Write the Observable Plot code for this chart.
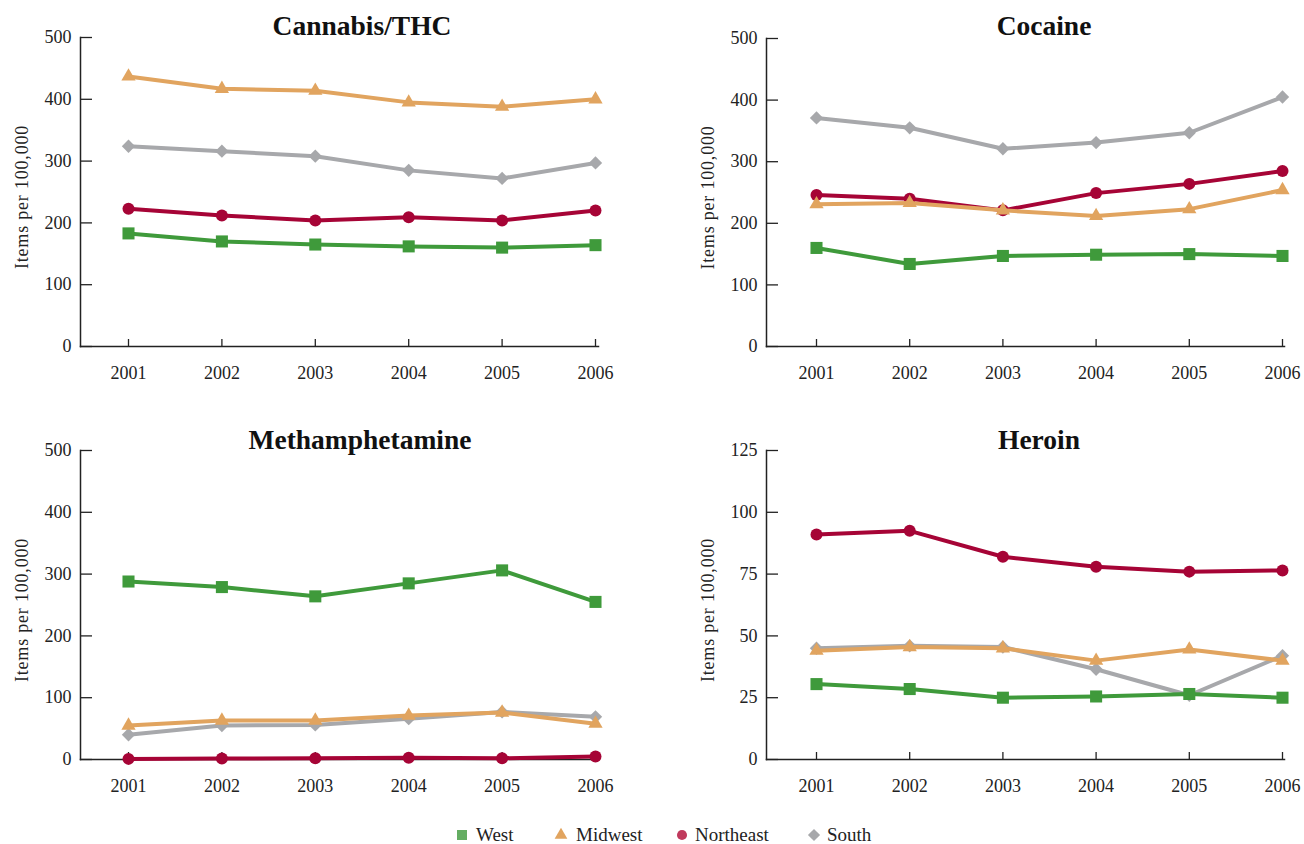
<!DOCTYPE html>
<html>
<head>
<meta charset="utf-8">
<script src="https://cdn.jsdelivr.net/npm/d3@7"></script>
<script src="https://cdn.jsdelivr.net/npm/@observablehq/plot@0.6"></script>
<style>
  body { margin: 0; background: #fff; }
  #page { position: relative; width: 1304px; height: 844px; font-family: "Liberation Serif", "DejaVu Serif", serif; color: #222; }
  .panel { position: absolute; }
  .title { position: absolute; width: 400px; text-align: center; font-weight: bold; font-size: 27.5px; line-height: 30px; color: #111; }
  .legend-symbol { position: absolute; top: 827px; }
  .legend-text { position: absolute; top: 824px; font-size: 19px; line-height: 22px; color: #222; }
</style>
</head>
<body>
<div id="page"></div>
<script>
// Years and regions
const years = [2001, 2002, 2003, 2004, 2005, 2006];
const regions = ["West", "Midwest", "Northeast", "South"];
const regionColors = ["#3f9a3b", "#e1a45f", "#a60436", "#a7a8ab"];
const legendColors = ["#64ad62", "#e1a45f", "#c03a5d", "#a7a8ab"];
const regionSymbols = ["square", "triangle", "circle", "diamond2"];
const regionRadius = [6.8, 5.3, 6, 6];

// Items per 100,000 — Cannabis/THC
const cannabisWest = [183, 170, 165, 162, 160, 164];
const cannabisMidwest = [437, 417, 414, 395, 388, 400];
const cannabisNortheast = [223, 212, 204, 209, 204, 220];
const cannabisSouth = [324, 316, 308, 285, 272, 297];

// Cocaine
const cocaineWest = [160, 134, 147, 149, 150, 147];
const cocaineMidwest = [231, 233, 221, 212, 223, 254];
const cocaineNortheast = [246, 240, 221, 249, 264, 285];
const cocaineSouth = [371, 355, 321, 331, 347, 405];

// Methamphetamine
const methWest = [288, 279, 264, 285, 306, 255];
const methMidwest = [55, 63, 63, 71, 76, 58];
const methNortheast = [1, 1.5, 2, 3, 2, 5];
const methSouth = [40, 55, 56, 66, 77, 69];

// Heroin
const heroinWest = [30.5, 28.5, 25, 25.5, 26.5, 25];
const heroinMidwest = [44, 45.5, 45, 40, 44.5, 40];
const heroinNortheast = [91, 92.5, 82, 78, 76, 76.5];
const heroinSouth = [45, 46, 45.5, 36.5, 26, 42];

const yTicks500 = [0, 100, 200, 300, 400, 500];
const yTicks125 = [0, 25, 50, 75, 100, 125];
const yLabel = "Items per 100,000";

const panels = [
  {title: "Cannabis/THC", series: [cannabisWest, cannabisMidwest, cannabisNortheast, cannabisSouth], ticks: yTicks500,
   left: 0, top: 0, height: 400, mt: 37, mb: 54, ml: 80, mr: 54, il: 48, ir: 3, titleX: 362, titleY: 26},
  {title: "Cocaine", series: [cocaineWest, cocaineMidwest, cocaineNortheast, cocaineSouth], ticks: yTicks500,
   left: 652, top: 0, height: 400, mt: 38, mb: 54, ml: 114, mr: 20, il: 50, ir: 2, titleX: 1044, titleY: 26},
  {title: "Methamphetamine", series: [methWest, methMidwest, methNortheast, methSouth], ticks: yTicks500,
   left: 0, top: 400, height: 400, mt: 50, mb: 41, ml: 80, mr: 54, il: 48, ir: 3, titleX: 360, titleY: 440},
  {title: "Heroin", series: [heroinWest, heroinMidwest, heroinNortheast, heroinSouth], ticks: yTicks125,
   left: 652, top: 400, height: 400, mt: 50, mb: 41, ml: 114, mr: 20, il: 50, ir: 2, titleX: 1039, titleY: 440}
];

// Drawing order keeps Midwest on top, South underneath
const drawOrder = [3, 2, 0, 1];

const page = document.getElementById("page");

for (const p of panels) {
  const width = 652;
  const fw = width - p.ml - p.mr;
  const fh = p.height - p.mt - p.mb;
  const marks = [];

  // inward ticks on both axes
  marks.push(Plot.ruleY(p.ticks, {y: d => d, insetRight: fw - 12, stroke: "#222", strokeWidth: 1.3}));
  marks.push(Plot.ruleX(years, {x: d => d, insetTop: fh - 7, stroke: "#222", strokeWidth: 1.3}));
  marks.push(Plot.frame({anchor: "left", stroke: "#222", strokeWidth: 1.5}));
  marks.push(Plot.frame({anchor: "bottom", stroke: "#222", strokeWidth: 1.5}));
  marks.push(Plot.axisY({ticks: p.ticks, tickSize: 0, tickPadding: 9, label: null, fontSize: 18}));
  marks.push(Plot.axisX({ticks: years, tickSize: 0, tickPadding: 20, tickFormat: d => String(d), label: null, fontSize: 18}));
  marks.push(Plot.text([yLabel], {text: d => d, frameAnchor: "left", textAnchor: "middle", rotate: -90, dx: -58, dy: 5, fontSize: 18, fill: "#222", style: ""}));

  for (const i of drawOrder) {
    const data = years.map((year, j) => ({year, value: p.series[i][j], region: regions[i]}));
    marks.push(Plot.line(data, {x: "year", y: "value", stroke: regionColors[i], strokeWidth: 4, strokeLinejoin: "round"}));
    marks.push(Plot.dot(data, {x: "year", y: "value", symbol: () => regionSymbols[i], r: regionRadius[i], fill: regionColors[i], stroke: "none"}));
  }

  const chart = Plot.plot({
    width, height: p.height,
    marginLeft: p.ml, marginRight: p.mr, marginTop: p.mt, marginBottom: p.mb,
    x: {domain: [2001, 2006], insetLeft: p.il, insetRight: p.ir},
    y: {domain: [p.ticks[0], p.ticks[p.ticks.length - 1]]},
    symbol: {domain: regionSymbols, range: regionSymbols},
    style: {fontFamily: "'Liberation Serif', 'DejaVu Serif', serif", fontSize: "18px", color: "#222", background: "transparent", overflow: "visible"},
    marks
  });
  // widen the spacing of the rotated axis title
  d3.select(chart).selectAll("text").filter(function () { return this.textContent === yLabel; }).style("letter-spacing", "0.8px");

  const wrap = document.createElement("div");
  wrap.className = "panel";
  wrap.style.left = p.left + "px";
  wrap.style.top = p.top + "px";
  wrap.appendChild(chart);
  page.appendChild(wrap);

  const t = document.createElement("div");
  t.className = "title";
  t.textContent = p.title;
  t.style.left = (p.titleX - 200) + "px";
  t.style.top = (p.titleY - 15) + "px";
  page.appendChild(t);
}

// Legend: symbol centre and label start for each region
const legendSymbolX = [462, 561, 682, 814];
const legendTextX = [476, 576, 695, 827];
const symbolTypes = {square: d3.symbolSquare, triangle: d3.symbolTriangle, circle: d3.symbolCircle, diamond2: d3.symbolDiamond2};
const legendSize = [100, 70, 80, 95];
regions.forEach((name, i) => {
  const path = d3.symbol(symbolTypes[regionSymbols[i]], legendSize[i])();
  const s = document.createElement("div");
  s.className = "legend-symbol";
  s.style.left = (legendSymbolX[i] - 8) + "px";
  s.innerHTML = `<svg width="16" height="16" viewBox="-8 -8 16 16"><path d="${path}" fill="${legendColors[i]}"></path></svg>`;
  page.appendChild(s);
  const t = document.createElement("div");
  t.className = "legend-text";
  t.style.left = legendTextX[i] + "px";
  t.textContent = name;
  page.appendChild(t);
});
</script>
</body>
</html>
